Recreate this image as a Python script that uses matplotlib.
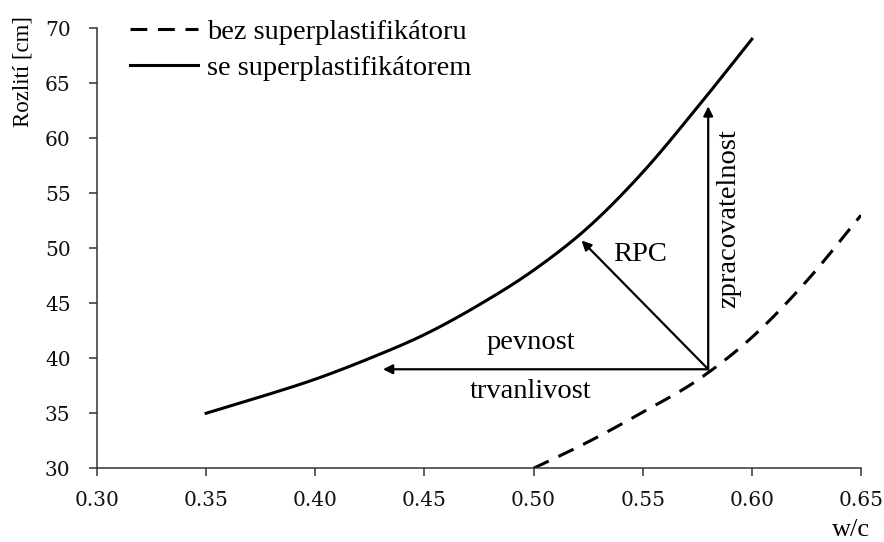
import matplotlib
matplotlib.use('Agg')
import matplotlib.pyplot as plt
import numpy as np

# readings
wc_super = [0.35, 0.375, 0.40, 0.425, 0.45, 0.475, 0.50, 0.525, 0.55, 0.575, 0.60]
flow_super = [35.0, 36.5, 38.1, 40.0, 42.15, 44.85, 48.0, 51.9, 56.9, 62.8, 69.0]

wc_plain = [0.50, 0.525, 0.55, 0.575, 0.60, 0.625, 0.65]
flow_plain = [30.0, 32.4, 35.1, 38.0, 41.9, 47.0, 53.0]

label_plain = 'bez superplastifikátoru'
label_super = 'se superplastifikátorem'

arrow_start = (0.58, 39.0)
arrow_ends = [(0.58, 62.9), (0.431, 39.0), (0.522, 50.7)]

xticks = [0.30, 0.35, 0.40, 0.45, 0.50, 0.55, 0.60, 0.65]
yticks = [30, 35, 40, 45, 50, 55, 60, 65, 70]


def smooth(x, y, n=20):
    # Catmull-Rom rendering of the read points, like a "smoothed line" in Excel
    x, y = np.asarray(x, float), np.asarray(y, float)
    px = np.concatenate([[2*x[0] - x[1]], x, [2*x[-1] - x[-2]]])
    py = np.concatenate([[2*y[0] - y[1]], y, [2*y[-1] - y[-2]]])
    t = np.linspace(0, 1, n, endpoint=False)[:, None]
    out_x, out_y = [], []
    for i in range(1, len(px) - 2):
        for p, out in ((px, out_x), (py, out_y)):
            p0, p1, p2, p3 = p[i-1], p[i], p[i+1], p[i+2]
            seg = 0.5*((2*p1) + (-p0 + p2)*t + (2*p0 - 5*p1 + 4*p2 - p3)*t**2
                       + (-p0 + 3*p1 - 3*p2 + p3)*t**3)
            out.extend(seg.ravel())
    out_x.append(x[-1])
    out_y.append(y[-1])
    return out_x, out_y


plt.rcParams['font.family'] = ['Liberation Serif', 'DejaVu Serif']

fig, ax = plt.subplots(figsize=(8.84, 5.42), dpi=100)
fig.subplots_adjust(left=0.1097, right=0.974, bottom=0.136, top=0.948)

ax.plot(*smooth(wc_plain, flow_plain), color='black', lw=2.2, dashes=(5.5, 3.5),
        label=label_plain)
ax.plot(*smooth(wc_super, flow_super), color='black', lw=2.2, label=label_super)

for end in arrow_ends:
    ax.annotate('', xy=end, xytext=arrow_start,
                arrowprops=dict(arrowstyle='-|>', color='black', lw=1.6,
                                mutation_scale=14, shrinkA=0, shrinkB=0))

ax.text(0.4986, 41.4, 'pevnost', fontsize=20.5, ha='center', va='center')
ax.text(0.4986, 37.0, 'trvanlivost', fontsize=20.5, ha='center', va='center')
ax.text(0.5486, 49.4, 'RPC', fontsize=20.5, ha='center', va='center')
ax.text(0.5896, 52.7, 'zpracovatelnost', fontsize=20.5, ha='center',
        va='center', rotation=90)

ax.set_xlim(0.30, 0.65)
ax.set_ylim(30, 70)
ax.set_xticks(xticks)
ax.set_yticks(yticks)
ax.set_xticklabels(['%.2f' % v for v in xticks])
for lab in ax.get_xticklabels() + ax.get_yticklabels():
    lab.set_fontfamily('DejaVu Serif')
    lab.set_fontsize(14.5)
    lab.set_color('#111111')
ax.tick_params(axis='x', length=6, width=1.1, pad=10, color='#333333')
ax.tick_params(axis='y', length=6, width=1.1, pad=13, color='#333333')

for side in ['top', 'right']:
    ax.spines[side].set_visible(False)
for side in ['left', 'bottom']:
    ax.spines[side].set_linewidth(1.1)
    ax.spines[side].set_color('#333333')

ax.set_xlabel('w/c', fontsize=19, loc='right')
ax.xaxis.set_label_coords(1.012, -0.14)
ax.xaxis.label.set_verticalalignment('center')

ax.set_ylabel('Rozlití [cm]', fontsize=16.5)
ax.yaxis.set_label_coords(-0.097, 0.902)
ax.yaxis.label.set_verticalalignment('center')

ax.legend(loc='upper left', bbox_to_anchor=(0.043, 1.021), frameon=False,
          fontsize=20.5, handlelength=2.4, handletextpad=0.3,
          labelspacing=0.35, borderpad=0, borderaxespad=0)

fig.savefig('out.png', dpi=100)
